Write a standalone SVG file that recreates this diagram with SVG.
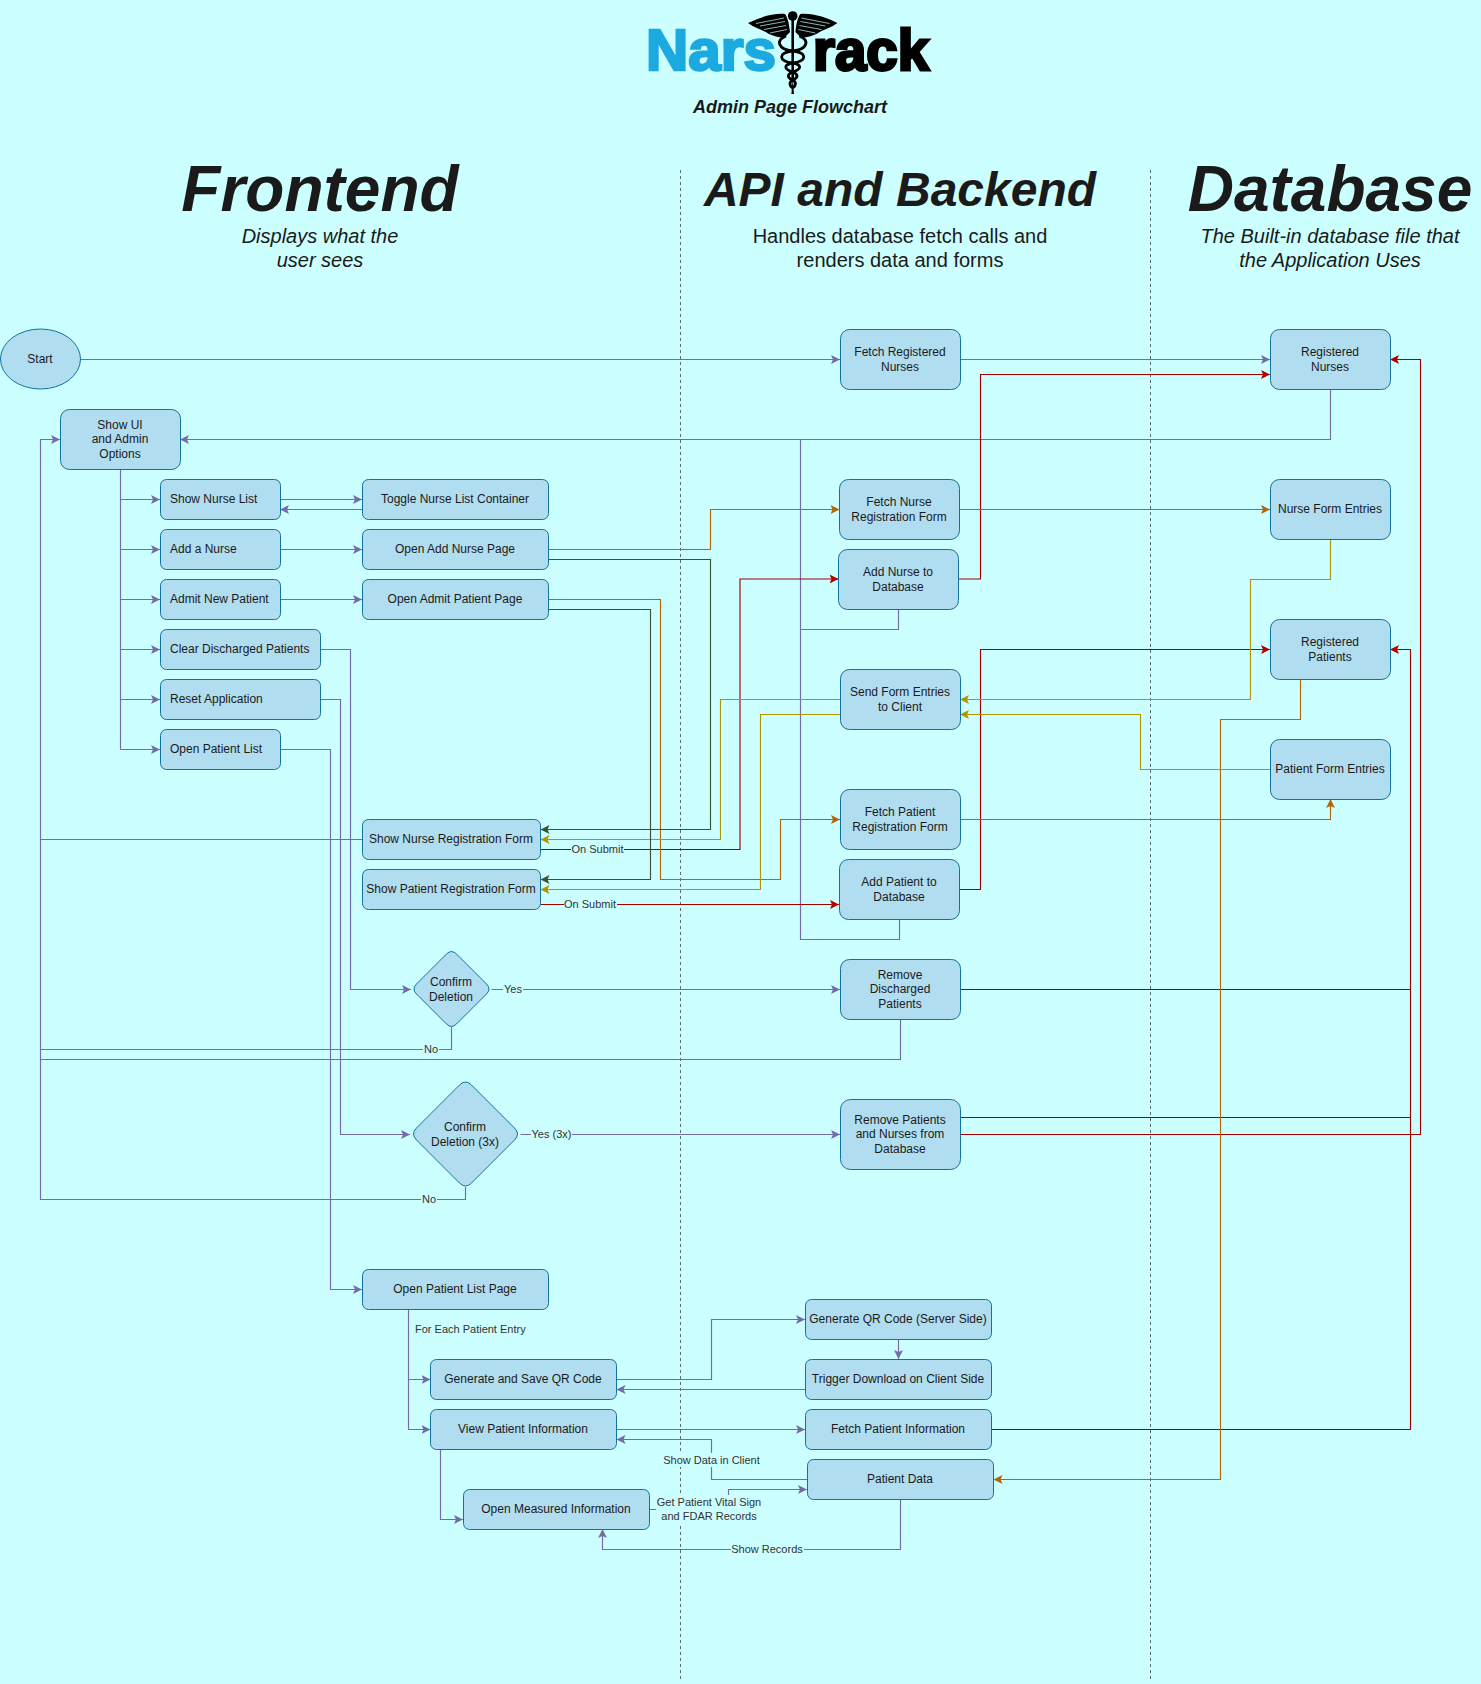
<svg xmlns="http://www.w3.org/2000/svg" width="1481" height="1684" viewBox="0 0 1481 1684">
<style>
text{font-family:"Liberation Sans",Arial,sans-serif;fill:#1a1a1a}
.n rect,.n path,.n ellipse{fill:#b1ddf0;stroke:#10739e;stroke-width:1}
.t{font-size:12px;text-anchor:middle}
.l{font-size:12px}
.e{font-size:11px;text-anchor:middle;fill:#333}
.lb{fill:#ccffff}
.c path{fill:none;stroke-width:1.15}
.p{stroke:#736ca8}.r{stroke:#a00000}.a{stroke:#b46504}.g{stroke:#b09500}.d{stroke:#3a5431}
.h{font-weight:bold;font-style:italic;text-anchor:middle}
.s{font-size:20px;text-anchor:middle}
.dash{stroke:#5a6b75;stroke-dasharray:3 3;stroke-width:1;fill:none}
</style>
<defs>
<marker id="ap" markerUnits="userSpaceOnUse" viewBox="0 0 9 9" markerWidth="9" markerHeight="9" refX="9" refY="4.5" orient="auto"><path d="M0,0L9,4.5L0,9L2,4.5Z" fill="#736ca8"/></marker>
<marker id="ar" markerUnits="userSpaceOnUse" viewBox="0 0 9 9" markerWidth="9" markerHeight="9" refX="9" refY="4.5" orient="auto"><path d="M0,0L9,4.5L0,9L2,4.5Z" fill="#b20000"/></marker>
<marker id="aa" markerUnits="userSpaceOnUse" viewBox="0 0 9 9" markerWidth="9" markerHeight="9" refX="9" refY="4.5" orient="auto"><path d="M0,0L9,4.5L0,9L2,4.5Z" fill="#b46504"/></marker>
<marker id="ag" markerUnits="userSpaceOnUse" viewBox="0 0 9 9" markerWidth="9" markerHeight="9" refX="9" refY="4.5" orient="auto"><path d="M0,0L9,4.5L0,9L2,4.5Z" fill="#b09500"/></marker>
<marker id="ad" markerUnits="userSpaceOnUse" viewBox="0 0 9 9" markerWidth="9" markerHeight="9" refX="9" refY="4.5" orient="auto"><path d="M0,0L9,4.5L0,9L2,4.5Z" fill="#3a5431"/></marker>
</defs>
<rect width="1481" height="1684" fill="#ccffff"/>

<g id="logo">
<text x="646" y="70" font-size="58" font-weight="bold" textLength="130" lengthAdjust="spacingAndGlyphs" style="fill:#1ba9e0;stroke:#1ba9e0;stroke-width:2.5">Nars</text>
<text x="813" y="70" font-size="58" font-weight="bold" textLength="116" lengthAdjust="spacingAndGlyphs" style="fill:#000;stroke:#000;stroke-width:3">rack</text>
<g id="caduceus">
<rect x="791.4" y="20" width="2.6" height="60" fill="#000"/>
<path d="M792.7,78L794,94L791.4,94Z" fill="#000"/>
<circle cx="792.7" cy="16" r="4.8" fill="#000"/>
<g id="wing">
<path d="M748,23C758,18 772,13 785,14C788,18 789,24 790,32L784,38C778,37 773,36 769,34C766,32 762,30 758,28.5C754,27 751,25 748,23Z" fill="#000"/>
<path d="M756,23.5L784,18M760,26L785,21.5M764,29.5L786,25.5M770,33L787,29.5" stroke="#ccffff" stroke-width="0.7" fill="none"/>
</g>
<use href="#wing" transform="translate(1585.4,0) scale(-1,1)"/>
<path id="snake" d="M786,36C776,40 777,49 792.7,51C808,53 807,61 792.7,63C784,64.5 783,69 792.7,72C799,74.5 798,78 792.7,80C789,82 789,85 792.7,88" fill="none" stroke="#000" stroke-width="2.8"/>
<use href="#snake" transform="translate(1585.4,0) scale(-1,1)"/>
</g>
</g>
<text class="h" x="790" y="113" font-size="18">Admin Page Flowchart</text>

<g id="headers">
<text class="h" x="320" y="211" font-size="64">Frontend</text>
<text class="h" x="900" y="206" font-size="48">API and Backend</text>
<text class="h" x="1330" y="211" font-size="64">Database</text>
<text class="s" x="320" y="243" font-style="italic">Displays what the</text>
<text class="s" x="320" y="267" font-style="italic">user sees</text>
<text class="s" x="900" y="243">Handles database fetch calls and</text>
<text class="s" x="900" y="267">renders data and forms</text>
<text class="s" x="1330" y="243" font-style="italic">The Built-in database file that</text>
<text class="s" x="1330" y="267" font-style="italic">the Application Uses</text>
</g>

<g id="lanes">
<path class="dash" d="M680.5,170V1680"/>
<path class="dash" d="M1150.5,170V1680"/>
</g>

<g id="connectors" class="c">
<path class="p" marker-end="url(#ap)" d="M80.5,359.5H840"/>
<path class="p" marker-end="url(#ap)" d="M960,359.5H1270"/>
<path class="p" marker-end="url(#ap)" d="M1330.5,389V439.5H180"/>
<path class="p" d="M898.5,609V629.5H800.5V439.5"/>
<path class="p" d="M899.5,919V939.5H800.5V629"/>
<path class="p" d="M120.5,469V749.5"/>
<path class="p" marker-end="url(#ap)" d="M120.5,499.5H160"/>
<path class="p" marker-end="url(#ap)" d="M120.5,549.5H160"/>
<path class="p" marker-end="url(#ap)" d="M120.5,599.5H160"/>
<path class="p" marker-end="url(#ap)" d="M120.5,649.5H160"/>
<path class="p" marker-end="url(#ap)" d="M120.5,699.5H160"/>
<path class="p" marker-end="url(#ap)" d="M120.5,749.5H160"/>
<path class="p" marker-end="url(#ap)" d="M280,499.5H362"/>
<path class="p" marker-end="url(#ap)" d="M362,509.5H280"/>
<path class="p" marker-end="url(#ap)" d="M280,549.5H362"/>
<path class="p" marker-end="url(#ap)" d="M280,599.5H362"/>
<path class="p" marker-end="url(#ap)" d="M320,649.5H350.5V989.5H411"/>
<path class="p" marker-end="url(#ap)" d="M320,699.5H340.5V1134.5H410"/>
<path class="p" marker-end="url(#ap)" d="M280,749.5H330.5V1289.5H362"/>
<path class="p" marker-end="url(#ap)" d="M40.5,839.5V439.5H60"/>
<path class="p" d="M362,839.5H40.5"/>
<path class="p" d="M451.5,1027V1049.5H40.5V839"/>
<path class="p" d="M900.5,1019V1059.5H40.5"/>
<path class="p" d="M465.5,1187V1199.5H40.5V1049"/>
<path class="p" marker-end="url(#ap)" d="M491.5,989.5H840"/>
<path class="p" marker-end="url(#ap)" d="M520.5,1134.5H840"/>
<path class="r" marker-end="url(#ar)" d="M958,579H980.5V374.5H1270"/>
<path class="r" marker-end="url(#ar)" d="M959,889.5H980.5V649.5H1270"/>
<path class="r" marker-end="url(#ar)" d="M540.5,849.5H740V579H838.5"/>
<path class="r" marker-end="url(#ar)" d="M540.5,904.5H839"/>
<path class="r" marker-end="url(#ar)" d="M960,1134.5H1420.5V359.5H1390"/>
<path class="r" marker-end="url(#ar)" d="M992,1429.5H1410.5V649.5H1390"/>
<path class="r" d="M960,989.5H1410.5"/>
<path class="r" d="M960,1117.5H1410.5"/>
<path class="a" marker-end="url(#aa)" d="M959,509.5H1270"/>
<path class="a" marker-end="url(#aa)" d="M548.5,549.5H710.5V509.5H839.5"/>
<path class="a" marker-end="url(#aa)" d="M548.5,599.5H660.5V879.5H780.5V819.5H840"/>
<path class="a" marker-end="url(#aa)" d="M960,819.5H1330.5V799"/>
<path class="a" marker-end="url(#aa)" d="M1300.5,679V719.5H1220.5V1479.5H993.5"/>
<path class="g" marker-end="url(#ag)" d="M1330.5,539V579.5H1250.5V699.5H960"/>
<path class="g" marker-end="url(#ag)" d="M1270,769.5H1140.5V714.5H960"/>
<path class="g" marker-end="url(#ag)" d="M840.5,699.5H720.5V839.5H540.5"/>
<path class="g" marker-end="url(#ag)" d="M840.5,714.5H760.5V889.5H540.5"/>
<path class="d" marker-end="url(#ad)" d="M548.5,559.5H710.5V829.5H540.5"/>
<path class="d" marker-end="url(#ad)" d="M548.5,609.5H650.5V879.5H540.5"/>
<path class="p" marker-end="url(#ap)" d="M408.5,1309V1379.5H430.5"/>
<path class="p" marker-end="url(#ap)" d="M408.5,1379V1429.5H430.5"/>
<path class="p" marker-end="url(#ap)" d="M616.5,1379.5H711.5V1319.5H805"/>
<path class="p" marker-end="url(#ap)" d="M898.5,1339V1359"/>
<path class="p" marker-end="url(#ap)" d="M805,1389.5H616.5"/>
<path class="p" marker-end="url(#ap)" d="M616.5,1429.5H805"/>
<path class="p" marker-end="url(#ap)" d="M807,1479.5H711.5V1439.5H616.5"/>
<path class="p" marker-end="url(#ap)" d="M440.5,1449V1519.5H463"/>
<path class="p" marker-end="url(#ap)" d="M649.5,1509.5H728.5V1489.5H807"/>
<path class="p" marker-end="url(#ap)" d="M900.5,1499V1549.5H602.5V1529"/>
</g>

<g id="edge-labels">
<rect class="lb" x="571" y="843" width="53" height="13"/><text class="e" x="597.5" y="853">On Submit</text>
<rect class="lb" x="564" y="898" width="53" height="13"/><text class="e" x="590" y="908">On Submit</text>
<rect class="lb" x="503" y="983" width="20" height="13"/><text class="e" x="513" y="993">Yes</text>
<rect class="lb" x="531" y="1128" width="41" height="13"/><text class="e" x="551.5" y="1138">Yes (3x)</text>
<rect class="lb" x="423" y="1043" width="16" height="13"/><text class="e" x="431" y="1053">No</text>
<rect class="lb" x="421" y="1193" width="16" height="13"/><text class="e" x="429" y="1203">No</text>
<text class="e" x="415" y="1333" style="text-anchor:start">For Each Patient Entry</text>
<rect class="lb" x="662" y="1453" width="99" height="14"/><text class="e" x="711.5" y="1464">Show Data in Client</text>
<rect class="lb" x="656" y="1495" width="106" height="28"/><text class="e" x="709" y="1506">Get Patient Vital Sign</text><text class="e" x="709" y="1520">and FDAR Records</text>
<rect class="lb" x="731" y="1543" width="73" height="13"/><text class="e" x="767" y="1553">Show Records</text>
</g>

<g id="start" class="n"><ellipse cx="40.5" cy="359" rx="40" ry="30"/><text class="t" x="40" y="363">Start</text></g>
<g id="show-ui" class="n"><rect x="60.5" y="409.5" width="120" height="60" rx="9"/><text class="t" x="120" y="428.5">Show UI</text><text class="t" x="120" y="443">and Admin</text><text class="t" x="120" y="458">Options</text></g>
<g id="show-nurse-list" class="n"><rect x="160.5" y="479.5" width="120" height="40" rx="6"/><text class="l" x="170" y="503">Show Nurse List</text></g>
<g id="add-nurse" class="n"><rect x="160.5" y="529.5" width="120" height="40" rx="6"/><text class="l" x="170" y="553">Add a Nurse</text></g>
<g id="admit-patient" class="n"><rect x="160.5" y="579.5" width="120" height="40" rx="6"/><text class="l" x="170" y="603">Admit New Patient</text></g>
<g id="clear-discharged" class="n"><rect x="160.5" y="629.5" width="160" height="40" rx="6"/><text class="l" x="170" y="653">Clear Discharged Patients</text></g>
<g id="reset-app" class="n"><rect x="160.5" y="679.5" width="160" height="40" rx="6"/><text class="l" x="170" y="703">Reset Application</text></g>
<g id="open-patient-list" class="n"><rect x="160.5" y="729.5" width="120" height="40" rx="6"/><text class="l" x="170" y="753">Open Patient List</text></g>
<g id="toggle-nurse" class="n"><rect x="362.5" y="479.5" width="186" height="40" rx="6"/><text class="t" x="455" y="503">Toggle Nurse List Container</text></g>
<g id="open-add-nurse" class="n"><rect x="362.5" y="529.5" width="186" height="40" rx="6"/><text class="t" x="455" y="553">Open Add Nurse Page</text></g>
<g id="open-admit" class="n"><rect x="362.5" y="579.5" width="186" height="40" rx="6"/><text class="t" x="455" y="603">Open Admit Patient Page</text></g>
<g id="show-nurse-form" class="n"><rect x="362.5" y="819.5" width="178" height="40" rx="6"/><text class="t" x="451" y="843">Show Nurse Registration Form</text></g>
<g id="show-patient-form" class="n"><rect x="362.5" y="869.5" width="178" height="40" rx="6"/><text class="t" x="451" y="893">Show Patient Registration Form</text></g>
<g id="confirm-1" class="n"><path d="M446.5,954Q451.5,949 456.5,954L486.5,984Q491.5,989 486.5,994L456.5,1024Q451.5,1029 446.5,1024L416.5,994Q411.5,989 416.5,984Z"/><text class="t" x="451" y="986">Confirm</text><text class="t" x="451" y="1001">Deletion</text></g>
<g id="confirm-3" class="n"><path d="M459.5,1085Q465.5,1079 471.5,1085L514.5,1128Q520.5,1134 514.5,1140L471.5,1183Q465.5,1189 459.5,1183L416.5,1140Q410.5,1134 416.5,1128Z"/><text class="t" x="465" y="1131">Confirm</text><text class="t" x="465" y="1146">Deletion (3x)</text></g>
<g id="fetch-reg-nurses" class="n"><rect x="840.5" y="329.5" width="120" height="60" rx="9"/><text class="t" x="900" y="356">Fetch Registered</text><text class="t" x="900" y="371">Nurses</text></g>
<g id="fetch-nurse-form" class="n"><rect x="839.5" y="479.5" width="120" height="60" rx="9"/><text class="t" x="899" y="506">Fetch Nurse</text><text class="t" x="899" y="521">Registration Form</text></g>
<g id="add-nurse-db" class="n"><rect x="838.5" y="549.5" width="120" height="60" rx="9"/><text class="t" x="898" y="576">Add Nurse to</text><text class="t" x="898" y="591">Database</text></g>
<g id="send-form" class="n"><rect x="840.5" y="669.5" width="120" height="60" rx="9"/><text class="t" x="900" y="696">Send Form Entries</text><text class="t" x="900" y="711">to Client</text></g>
<g id="fetch-patient-form" class="n"><rect x="840.5" y="789.5" width="120" height="60" rx="9"/><text class="t" x="900" y="816">Fetch Patient</text><text class="t" x="900" y="831">Registration Form</text></g>
<g id="add-patient-db" class="n"><rect x="839.5" y="859.5" width="120" height="60" rx="9"/><text class="t" x="899" y="886">Add Patient to</text><text class="t" x="899" y="901">Database</text></g>
<g id="remove-discharged" class="n"><rect x="840.5" y="959.5" width="120" height="60" rx="9"/><text class="t" x="900" y="979">Remove</text><text class="t" x="900" y="993">Discharged</text><text class="t" x="900" y="1008">Patients</text></g>
<g id="remove-all" class="n"><rect x="840.5" y="1099.5" width="120" height="70" rx="10"/><text class="t" x="900" y="1124">Remove Patients</text><text class="t" x="900" y="1138">and Nurses from</text><text class="t" x="900" y="1153">Database</text></g>
<g id="registered-nurses" class="n"><rect x="1270.5" y="329.5" width="120" height="60" rx="9"/><text class="t" x="1330" y="356">Registered</text><text class="t" x="1330" y="371">Nurses</text></g>
<g id="nurse-form-entries" class="n"><rect x="1270.5" y="479.5" width="120" height="60" rx="9"/><text class="t" x="1330" y="513">Nurse Form Entries</text></g>
<g id="registered-patients" class="n"><rect x="1270.5" y="619.5" width="120" height="60" rx="9"/><text class="t" x="1330" y="646">Registered</text><text class="t" x="1330" y="661">Patients</text></g>
<g id="patient-form-entries" class="n"><rect x="1270.5" y="739.5" width="120" height="60" rx="9"/><text class="t" x="1330" y="773">Patient Form Entries</text></g>
<g id="patient-list-page" class="n"><rect x="362.5" y="1269.5" width="186" height="40" rx="6"/><text class="t" x="455" y="1293">Open Patient List Page</text></g>
<g id="gen-save-qr" class="n"><rect x="430.5" y="1359.5" width="186" height="40" rx="6"/><text class="t" x="523" y="1383">Generate and Save QR Code</text></g>
<g id="view-patient" class="n"><rect x="430.5" y="1409.5" width="186" height="40" rx="6"/><text class="t" x="523" y="1433">View Patient Information</text></g>
<g id="open-measured" class="n"><rect x="463.5" y="1489.5" width="186" height="40" rx="6"/><text class="t" x="556" y="1513">Open Measured Information</text></g>
<g id="gen-qr-server" class="n"><rect x="805.5" y="1299.5" width="186" height="40" rx="6"/><text class="t" x="898" y="1323">Generate QR Code (Server Side)</text></g>
<g id="trigger-download" class="n"><rect x="805.5" y="1359.5" width="186" height="40" rx="6"/><text class="t" x="898" y="1383">Trigger Download on Client Side</text></g>
<g id="fetch-patient-info" class="n"><rect x="805.5" y="1409.5" width="186" height="40" rx="6"/><text class="t" x="898" y="1433">Fetch Patient Information</text></g>
<g id="patient-data" class="n"><rect x="807.5" y="1459.5" width="186" height="40" rx="6"/><text class="t" x="900" y="1483">Patient Data</text></g>
</svg>
